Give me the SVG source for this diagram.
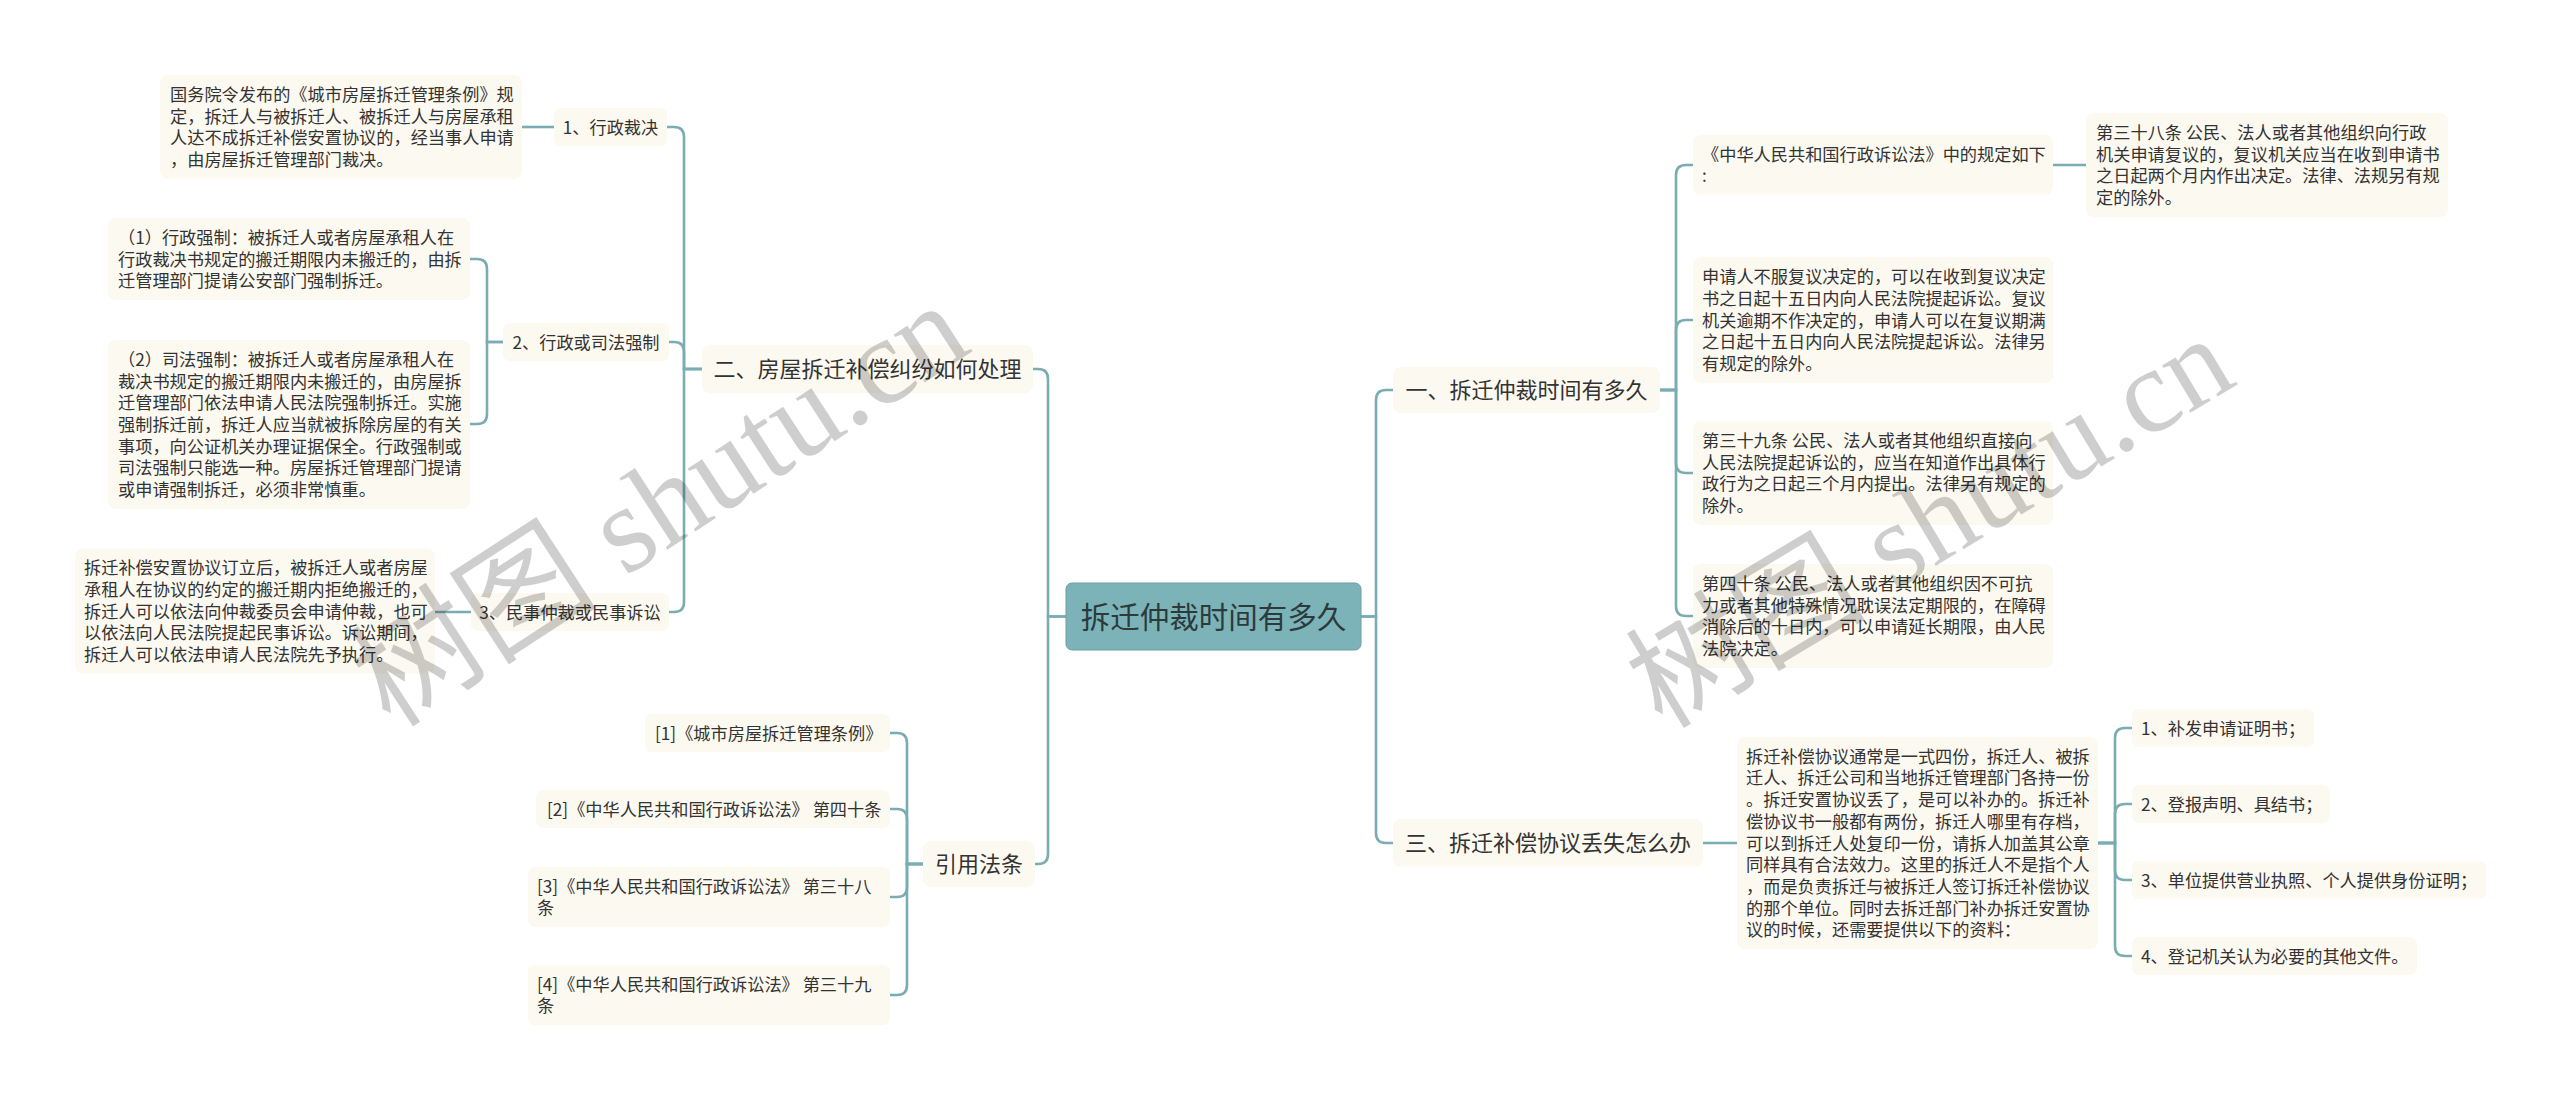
<svg xmlns="http://www.w3.org/2000/svg" width="2560" height="1100" viewBox="0 0 2560 1100">
<style>
.bg{fill:#ffffff}
.leaf{fill:#fcf9f0}
.root{fill:#7cb3b8;stroke:#6a9ea3;stroke-width:1}
.t{font-family:"Noto Sans CJK SC","Noto Sans",sans-serif;fill:#333333}
.s{font-size:17.2px}
.m{font-size:22px}
.c{font-size:29.5px;fill:#2c3a3c}
.mid{text-anchor:middle}
.con path{fill:none;stroke:#7aadb2;stroke-width:2.6}
.wm{font-family:"Liberation Serif","Noto Sans CJK SC",serif;fill:#000000;opacity:0.19;text-anchor:middle;dominant-baseline:central}
</style>
<rect class="bg" x="0" y="0" width="2560" height="1100"/>

<g id="connectors" class="con">
  <path d="M1066,616.5 H1048 V379 Q1048,369 1038,369 H1033"/>
  <path d="M1066,616.5 H1048 V854 Q1048,864 1038,864 H1035"/>
  <path d="M702,369 H684 V137 Q684,127 674,127 H667"/>
  <path d="M702,369 H684 V352 Q684,342 674,342 H669"/>
  <path d="M702,369 H684 V602 Q684,612 674,612 H669"/>
  <path d="M503,342 H487 V269 Q487,259 477,259 H470"/>
  <path d="M503,342 H487 V414 Q487,424 477,424 H470"/>
  <path d="M554,127 H522"/>
  <path d="M471,612 H435"/>
  <path d="M923,864 H907 V743 Q907,733 897,733 H890"/>
  <path d="M923,864 H907 V819 Q907,809 897,809 H890"/>
  <path d="M923,864 H907 V887 Q907,897 897,897 H890"/>
  <path d="M923,864 H907 V985 Q907,995 897,995 H890"/>
  <path d="M1361,616.5 H1376 V400 Q1376,390 1386,390 H1393"/>
  <path d="M1361,616.5 H1376 V833 Q1376,843 1386,843 H1393"/>
  <path d="M1660,390 H1676 V175 Q1676,165 1686,165 H1693"/>
  <path d="M1660,390 H1676 V330 Q1676,320 1686,320 H1693"/>
  <path d="M1660,390 H1676 V463 Q1676,473 1686,473 H1693"/>
  <path d="M1660,390 H1676 V606 Q1676,616 1686,616 H1693"/>
  <path d="M2053,165 H2086"/>
  <path d="M1703,843 H1737"/>
  <path d="M2098,843 H2115 V738 Q2115,728 2125,728 H2132"/>
  <path d="M2098,843 H2115 V814 Q2115,804 2125,804 H2132"/>
  <path d="M2098,843 H2115 V870 Q2115,880 2125,880 H2132"/>
  <path d="M2098,843 H2115 V946 Q2115,956 2125,956 H2132"/>
</g>

<g id="root">
  <rect class="root" x="1066" y="583" width="295" height="67" rx="6"/>
  <text class="t c mid" x="1213.5" y="627.5">拆迁仲裁时间有多久</text>
</g>

<g id="n-er">
  <rect class="leaf" x="702" y="345" width="331" height="48" rx="8"/>
  <text class="t m mid" x="867.5" y="377.4">二、房屋拆迁补偿纠纷如何处理</text>
</g>
<g id="n-er-1">
  <rect class="leaf" x="554" y="108" width="113" height="38" rx="7"/>
  <text class="t s mid" x="610.5" y="133.5">1、行政裁决</text>
</g>
<g id="n-er-1-a">
  <rect class="leaf" x="160" y="75" width="362" height="104" rx="8"/>
  <text class="t s"><tspan x="170" y="101">国务院令发布的《城市房屋拆迁管理条例》规</tspan><tspan x="170" y="122.7">定，拆迁人与被拆迁人、被拆迁人与房屋承租</tspan><tspan x="170" y="144.4">人达不成拆迁补偿安置协议的，经当事人申请</tspan><tspan x="170" y="166.1">，由房屋拆迁管理部门裁决。</tspan></text>
</g>
<g id="n-er-2">
  <rect class="leaf" x="503" y="323" width="166" height="38" rx="7"/>
  <text class="t s mid" x="586" y="348.5">2、行政或司法强制</text>
</g>
<g id="n-er-2-a">
  <rect class="leaf" x="108" y="218" width="362" height="82" rx="8"/>
  <text class="t s"><tspan x="118" y="243.8">（1）行政强制：被拆迁人或者房屋承租人在</tspan><tspan x="118" y="265.5">行政裁决书规定的搬迁期限内未搬迁的，由拆</tspan><tspan x="118" y="287.2">迁管理部门提请公安部门强制拆迁。</tspan></text>
</g>
<g id="n-er-2-b">
  <rect class="leaf" x="108" y="340" width="362" height="169" rx="8"/>
  <text class="t s"><tspan x="118" y="365.9">（2）司法强制：被拆迁人或者房屋承租人在</tspan><tspan x="118" y="387.6">裁决书规定的搬迁期限内未搬迁的，由房屋拆</tspan><tspan x="118" y="409.3">迁管理部门依法申请人民法院强制拆迁。实施</tspan><tspan x="118" y="431">强制拆迁前，拆迁人应当就被拆除房屋的有关</tspan><tspan x="118" y="452.7">事项，向公证机关办理证据保全。行政强制或</tspan><tspan x="118" y="474.4">司法强制只能选一种。房屋拆迁管理部门提请</tspan><tspan x="118" y="496.1">或申请强制拆迁，必须非常慎重。</tspan></text>
</g>
<g id="n-er-3">
  <rect class="leaf" x="471" y="593" width="198" height="38" rx="7"/>
  <text class="t s mid" x="570" y="618.5">3、民事仲裁或民事诉讼</text>
</g>
<g id="n-er-3-a">
  <rect class="leaf" x="75" y="548.5" width="360" height="125" rx="8"/>
  <text class="t s"><tspan x="84" y="574.1">拆迁补偿安置协议订立后，被拆迁人或者房屋</tspan><tspan x="84" y="595.8">承租人在协议的约定的搬迁期内拒绝搬迁的，</tspan><tspan x="84" y="617.5">拆迁人可以依法向仲裁委员会申请仲裁，也可</tspan><tspan x="84" y="639.2">以依法向人民法院提起民事诉讼。诉讼期间，</tspan><tspan x="84" y="660.9">拆迁人可以依法申请人民法院先予执行。</tspan></text>
</g>

<g id="n-cite">
  <rect class="leaf" x="923" y="841" width="112" height="46" rx="8"/>
  <text class="t m mid" x="979" y="872.4">引用法条</text>
</g>
<g id="n-cite-1">
  <rect class="leaf" x="645" y="714" width="245" height="38" rx="7"/>
  <text class="t s" x="655" y="739.5">[1]《城市房屋拆迁管理条例》</text>
</g>
<g id="n-cite-2">
  <rect class="leaf" x="536" y="790" width="354" height="38" rx="7"/>
  <text class="t s" x="547" y="815.5">[2]《中华人民共和国行政诉讼法》 第四十条</text>
</g>
<g id="n-cite-3">
  <rect class="leaf" x="528" y="867" width="362" height="60" rx="7"/>
  <text class="t s"><tspan x="537" y="892.7">[3]《中华人民共和国行政诉讼法》 第三十八</tspan><tspan x="537" y="914.4">条</tspan></text>
</g>
<g id="n-cite-4">
  <rect class="leaf" x="528" y="965" width="362" height="60" rx="7"/>
  <text class="t s"><tspan x="537" y="990.7">[4]《中华人民共和国行政诉讼法》 第三十九</tspan><tspan x="537" y="1012.4">条</tspan></text>
</g>

<g id="n-yi">
  <rect class="leaf" x="1393" y="367" width="267" height="46" rx="8"/>
  <text class="t m mid" x="1526.5" y="398.4">一、拆迁仲裁时间有多久</text>
</g>
<g id="n-yi-0">
  <rect class="leaf" x="1693" y="135" width="360" height="60" rx="8"/>
  <text class="t s"><tspan x="1702" y="160.7">《中华人民共和国行政诉讼法》中的规定如下</tspan><tspan x="1702" y="182.4">:</tspan></text>
</g>
<g id="n-yi-0-a">
  <rect class="leaf" x="2086" y="113" width="362" height="104" rx="8"/>
  <text class="t s"><tspan x="2096" y="139">第三十八条 公民、法人或者其他组织向行政</tspan><tspan x="2096" y="160.7">机关申请复议的，复议机关应当在收到申请书</tspan><tspan x="2096" y="182.4">之日起两个月内作出决定。法律、法规另有规</tspan><tspan x="2096" y="204">定的除外。</tspan></text>
</g>
<g id="n-yi-1">
  <rect class="leaf" x="1693" y="257" width="360" height="126" rx="8"/>
  <text class="t s"><tspan x="1702" y="283.1">申请人不服复议决定的，可以在收到复议决定</tspan><tspan x="1702" y="304.8">书之日起十五日内向人民法院提起诉讼。复议</tspan><tspan x="1702" y="326.5">机关逾期不作决定的，申请人可以在复议期满</tspan><tspan x="1702" y="348.2">之日起十五日内向人民法院提起诉讼。法律另</tspan><tspan x="1702" y="369.9">有规定的除外。</tspan></text>
</g>
<g id="n-yi-2">
  <rect class="leaf" x="1693" y="421" width="360" height="104" rx="8"/>
  <text class="t s"><tspan x="1702" y="447">第三十九条 公民、法人或者其他组织直接向</tspan><tspan x="1702" y="468.7">人民法院提起诉讼的，应当在知道作出具体行</tspan><tspan x="1702" y="490.4">政行为之日起三个月内提出。法律另有规定的</tspan><tspan x="1702" y="512">除外。</tspan></text>
</g>
<g id="n-yi-3">
  <rect class="leaf" x="1693" y="564" width="360" height="104" rx="8"/>
  <text class="t s"><tspan x="1702" y="590">第四十条 公民、法人或者其他组织因不可抗</tspan><tspan x="1702" y="611.7">力或者其他特殊情况耽误法定期限的，在障碍</tspan><tspan x="1702" y="633.4">消除后的十日内，可以申请延长期限，由人民</tspan><tspan x="1702" y="655">法院决定。</tspan></text>
</g>

<g id="n-san">
  <rect class="leaf" x="1393" y="819" width="310" height="48" rx="8"/>
  <text class="t m mid" x="1548" y="851.4">三、拆迁补偿协议丢失怎么办</text>
</g>
<g id="n-san-a">
  <rect class="leaf" x="1737" y="737" width="361" height="212" rx="8"/>
  <text class="t s"><tspan x="1746" y="762.7">拆迁补偿协议通常是一式四份，拆迁人、被拆</tspan><tspan x="1746" y="784.4">迁人、拆迁公司和当地拆迁管理部门各持一份</tspan><tspan x="1746" y="806.1">。拆迁安置协议丢了，是可以补办的。拆迁补</tspan><tspan x="1746" y="827.8">偿协议书一般都有两份，拆迁人哪里有存档，</tspan><tspan x="1746" y="849.5">可以到拆迁人处复印一份，请拆人加盖其公章</tspan><tspan x="1746" y="871.2">同样具有合法效力。这里的拆迁人不是指个人</tspan><tspan x="1746" y="892.9">，而是负责拆迁与被拆迁人签订拆迁补偿协议</tspan><tspan x="1746" y="914.6">的那个单位。同时去拆迁部门补办拆迁安置协</tspan><tspan x="1746" y="936.3">议的时候，还需要提供以下的资料：</tspan></text>
</g>
<g id="n-san-1">
  <rect class="leaf" x="2132" y="709" width="182" height="38" rx="7"/>
  <text class="t s" x="2141" y="734.5">1、补发申请证明书；</text>
</g>
<g id="n-san-2">
  <rect class="leaf" x="2132" y="785" width="198" height="38" rx="7"/>
  <text class="t s" x="2141" y="810.5">2、登报声明、具结书；</text>
</g>
<g id="n-san-3">
  <rect class="leaf" x="2132" y="861" width="354" height="38" rx="7"/>
  <text class="t s" x="2141" y="886.5">3、单位提供营业执照、个人提供身份证明；</text>
</g>
<g id="n-san-4">
  <rect class="leaf" x="2132" y="937" width="285" height="38" rx="7"/>
  <text class="t s" x="2141" y="962.5">4、登记机关认为必要的其他文件。</text>
</g>

<g id="watermark">
  <text class="wm" font-size="124" transform="translate(660,505) rotate(-33)">树图 shutu.cn</text>
  <text class="wm" font-size="120" transform="translate(1930,522) rotate(-31)">树图 shutu.cn</text>
</g>
</svg>
